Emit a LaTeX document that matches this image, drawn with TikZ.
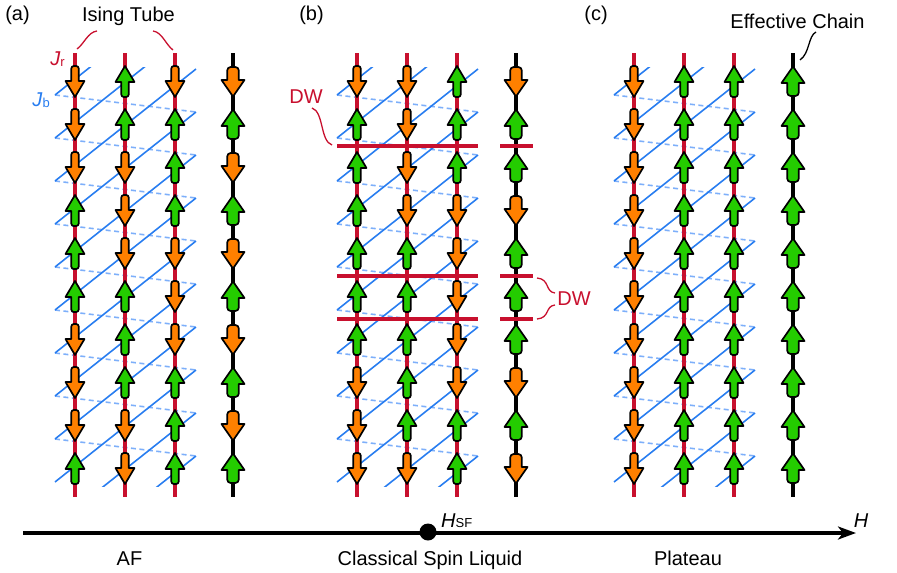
\documentclass[tikz,border=0pt]{standalone}
\usepackage{fontspec}
\setmainfont{Liberation Sans}
\usepackage{xcolor}
\usetikzlibrary{arrows.meta}
\definecolor{spinup}{RGB}{36,204,0}
\definecolor{spindn}{RGB}{255,128,0}
\definecolor{jrred}{RGB}{200,16,46}
\definecolor{jbblue}{RGB}{40,125,240}
\definecolor{jblight}{RGB}{125,175,250}

\begin{document}
\begin{tikzpicture}[
    x=1pt, y=-1pt,
    lbl/.style={font=\fontsize{20}{24}\selectfont, inner sep=0pt, anchor=base},
    jrline/.style={jrred, line width=3.2pt},
    effline/.style={black, line width=4.5pt},
    jbfront/.style={jbblue, line width=1.6pt},
    jbback/.style={jblight, line width=1.6pt, dash pattern=on 5pt off 3.5pt},
    dwline/.style={jrred, line width=3.5pt},
    callout/.style={line width=1.3pt},
    haxis/.style={line width=3.5pt, -{Stealth[length=18pt,width=13pt,inset=5pt]}},
    pics/tubespin/.style={code={
      \draw[line width=1.7pt, line join=round, fill=#1]
        (0,-15.5) -- (9.5,0.5) -- (3.7,0.5) [rounded corners=2.5pt] -- (3.7,15.5) -- (-3.7,15.5)
        [sharp corners] -- (-3.7,0.5) -- (-9.5,0.5) -- cycle;
    }},
    pics/effspin/.style={code={
      \draw[line width=1.7pt, line join=round, fill=#1]
        (0,-15) -- (11.5,1.5) -- (5.8,1.5) [rounded corners=3.5pt] -- (5.8,14.5) -- (-5.8,14.5)
        [sharp corners] -- (-5.8,1.5) -- (-11.5,1.5) -- cycle;
    }}
]
\useasboundingbox (0,0) rectangle (897,573);

% J_b bonds behind the tubes
\foreach \px in {75,357,634} {
  \foreach \k in {0,...,8}
    \draw[jbback] (\px-20,95+43*\k) -- (\px+121,112+43*\k);
}

% chains
\foreach \cx in {75,125,175,357,407,457,634,684,734}
  \draw[jrline] (\cx,53) -- (\cx,497);
\foreach \cx in {233,516,793}
  \draw[effline] (\cx,53) -- (\cx,497);

% J_b bonds in front
\foreach \px in {75,357,634} {
  \begin{scope}
    \clip (\px-25,67) rectangle (\px+125,486);
    \foreach \k in {0,...,11}
      \draw[jbfront] (\px-20,95+43*\k) -- (\px+121,-17+43*\k);
  \end{scope}
}

% Ising spins on the tubes
\foreach \cx/\spins in {
   75/{d,d,d,u,u,u,d,d,d,u},
  125/{u,u,d,d,d,u,u,u,d,d},
  175/{d,u,u,u,d,d,d,u,u,u},
  357/{d,u,u,u,u,u,u,d,d,d},
  407/{d,d,d,d,u,u,u,u,u,d},
  457/{u,u,u,d,d,d,d,d,u,u},
  634/{d,d,d,d,d,d,d,d,d,d},
  684/{u,u,u,u,u,u,u,u,u,u},
  734/{u,u,u,u,u,u,u,u,u,u}} {
  \foreach \s [count=\k] in \spins {
    \if\s u
      \pic at (\cx,38.5+43*\k) {tubespin=spinup};
    \else
      \pic[rotate=180] at (\cx,38.5+43*\k) {tubespin=spindn};
    \fi
  }
}

% effective chains
\foreach \cx/\spins in {
  233/{d,u,d,u,d,u,d,u,d,u},
  516/{d,u,u,d,u,u,u,d,u,d},
  793/{u,u,u,u,u,u,u,u,u,u}} {
  \foreach \s [count=\k] in \spins {
    \if\s u
      \pic at (\cx,38.5+43*\k) {effspin=spinup};
    \else
      \pic[rotate=180] at (\cx,38.5+43*\k) {effspin=spindn};
    \fi
  }
}

% domain walls
\foreach \dy in {146,276,319} {
  \draw[dwline] (337,\dy) -- (478,\dy);
  \draw[dwline] (500,\dy) -- (533,\dy);
}

% Labels
\node[lbl] (pa) at (17.5,20) {(a)};
\node[lbl] (pb) at (311.5,20) {(b)};
\node[lbl] (pc) at (596,20) {(c)};
\node[lbl] (tube) at (128.5,21) {Ising Tube};
\node[lbl, anchor=base east, text=jrred] (jr) at (65,65) {\textit{J}\raisebox{-1pt}{\fontsize{13}{13}\selectfont r}};
\node[lbl, anchor=base east, text=jbblue] (jb) at (50,106) {\textit{J}\raisebox{-1pt}{\fontsize{13}{13}\selectfont b}};
\node[lbl, text=jrred] (dwl) at (306,103) {DW};
\node[lbl, text=jrred] (dwr) at (574,305) {DW};
\node[lbl] (effch) at (797.5,28) {Effective Chain};

% callout lines
\coordinate (tubeA) at (77,49);
\coordinate (tubeB) at (97,31);
\coordinate (tubeC) at (153,31);
\coordinate (tubeD) at (173,50);
\draw[callout, jrred] (tubeA) .. controls (84,44) and (88,32) .. (tubeB);
\draw[callout, jrred] (tubeC) .. controls (162,32) and (166,45) .. (tubeD);
\coordinate (dwlA) at (312,108);
\coordinate (dwlB) at (332,145);
\draw[callout, jrred] (dwlA) .. controls (324,112) and (320,141) .. (dwlB);
\coordinate (dwrA) at (537,278);
\coordinate (dwrB) at (555,293);
\coordinate (dwrC) at (555,305);
\coordinate (dwrD) at (537,319);
\draw[callout, jrred] (dwrA) .. controls (550,279) and (545,292) .. (dwrB);
\draw[callout, jrred] (dwrC) .. controls (545,306) and (550,318) .. (dwrD);
\coordinate (effA) at (816,32);
\coordinate (effB) at (800,60);
\draw[callout] (effA) .. controls (808,36) and (810,53) .. (effB);

% field axis
\coordinate (hstart) at (23,533);
\coordinate (hend) at (856,533);
\draw[haxis] (hstart) -- (hend);
\node[circle, fill, inner sep=0pt, minimum size=17pt] (hsf) at (428,532) {};
\node[lbl, anchor=base west] (hsflbl) at (441,527) {\textit{H}{\fontsize{13}{13}\selectfont SF}};
\node[lbl] (hlbl) at (861,527) {\textit{H}};
\node[lbl] (af) at (129.5,565) {AF};
\node[lbl] (csl) at (430,565) {Classical Spin Liquid};
\node[lbl] (plat) at (688,565) {Plateau};

\end{tikzpicture}
\end{document}
